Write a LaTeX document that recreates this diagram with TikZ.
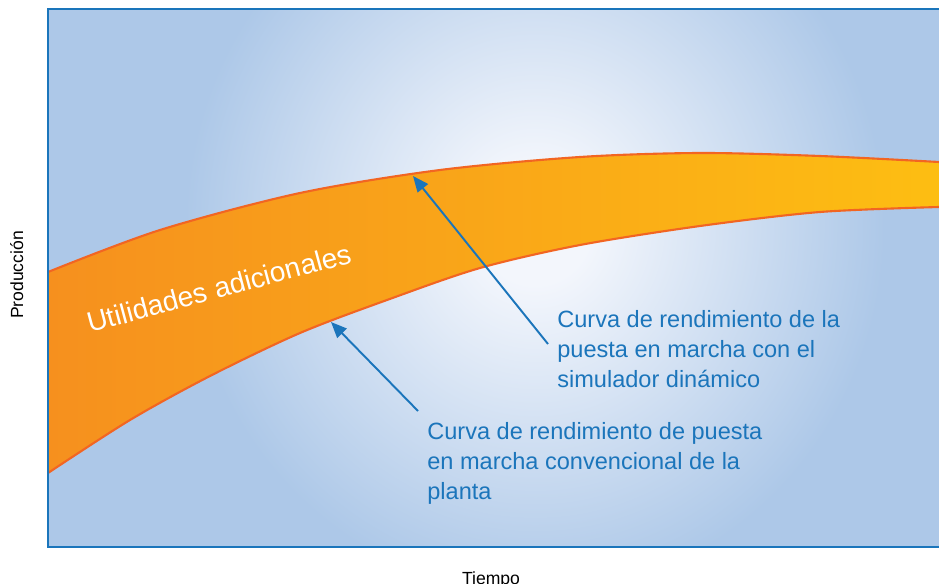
\documentclass[tikz,border=0pt]{standalone}
\usepackage{fontspec}
\setmainfont{Liberation Sans}
\usetikzlibrary{arrows.meta}
\definecolor{bgblue}{HTML}{ADC8E8}
\definecolor{glow}{HTML}{F3F6FC}
\definecolor{frameblue}{HTML}{1A75BB}
\definecolor{bandleft}{HTML}{F6901E}
\definecolor{bandright}{HTML}{FDBE12}
\definecolor{bandedge}{HTML}{F26522}
\definecolor{noteblue}{HTML}{1B75BB}
\pgfdeclareradialshading{glowshade}{\pgfpoint{0bp}{0bp}}{color(0bp)=(glow); color(4bp)=(glow); color(25bp)=(bgblue); color(50bp)=(bgblue)}
\begin{document}
\begin{tikzpicture}[x=0.02cm, y=-0.02cm]
  \tikzstyle{edge}=[draw=bandedge, line width=1.2pt]
  \tikzstyle{pointer}=[draw=noteblue, line width=1.1pt, -{Triangle[length=9pt, width=7.5pt]}]
  \tikzstyle{note}=[text=noteblue, font=\fontsize{13.4}{16.9}\selectfont, align=left, inner sep=0pt]
  \tikzstyle{axislabel}=[font=\fontsize{10}{12}\selectfont, inner sep=0pt]
  \useasboundingbox (0,0) rectangle (939,584);
  \begin{scope}
    \clip (48,9) rectangle (939,547);
    \fill[bgblue] (48,9) rectangle (939,547);
    \shade[shading=glowshade] (535,225) ellipse [x radius=7cm, y radius=7.4cm];
    \shade[left color=bandleft, right color=bandright]
      plot[smooth] coordinates {(48,272) (160,230) (300,193) (440,170) (580,157) (700,153) (820,156) (939,162)}
      -- plot[smooth] coordinates {(939,207) (820,212) (700,226) (580,245) (480,268) (387,300) (300,333) (210,376) (130,420) (48,473)}
      -- cycle;
    \draw[edge] plot[smooth] coordinates {(48,272) (160,230) (300,193) (440,170) (580,157) (700,153) (820,156) (939,162)};
    \draw[edge] plot[smooth] coordinates {(939,207) (820,212) (700,226) (580,245) (480,268) (387,300) (300,333) (210,376) (130,420) (48,473)};
  \end{scope}
  \draw[frameblue, line width=1.5pt] (960,9) -- (48,9) -- (48,547) -- (960,547);

  \node[text=white, font=\fontsize{16}{19}\selectfont, inner sep=0pt, rotate=15, anchor=base west] (profit) at (90,333) {Utilidades adicionales};

  \node[note, anchor=base west] (simnote) at (557,387) {Curva de rendimiento de la\\puesta en marcha con el\\simulador dinámico};
  \node[note, anchor=base west] (convnote) at (427,499) {Curva de rendimiento de puesta\\en marcha convencional de la\\planta};

  \coordinate (simtail) at (548,344);
  \coordinate (simtip) at (413,176);
  \coordinate (convtail) at (418,411);
  \coordinate (convtip) at (331,322);
  \draw[pointer] (simtail) -- (simtip);
  \draw[pointer] (convtail) -- (convtip);

  \node[axislabel, anchor=base] (timelabel) at (491,584.5) {Tiempo};
  \node[axislabel, rotate=90, anchor=base] (outputlabel) at (23,275) {Producción};
\end{tikzpicture}
\end{document}
